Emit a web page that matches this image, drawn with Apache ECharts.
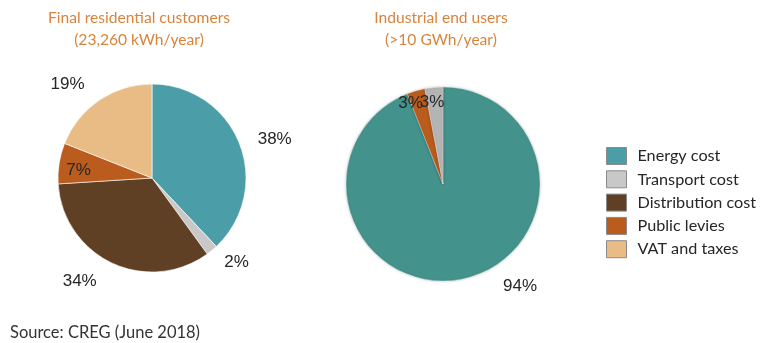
<!DOCTYPE html>
<html>
<head>
<meta charset="utf-8">
<script src="https://cdn.jsdelivr.net/npm/echarts@6/dist/echarts.min.js"></script>
<style>
  html, body { margin: 0; padding: 0; background: #fff; }
  #chart { width: 763px; height: 343px; }
</style>
</head>
<body>
<div id="chart"></div>
<script>
const categories = ['Energy cost', 'Transport cost', 'Distribution cost', 'Public levies', 'VAT and taxes']
const colors = ['#4B9EA7', '#C8C8C8', '#5F4024', '#BA5C1E', '#E8BC84']

// residential customers, clockwise from 12 o'clock
const residentialNames = ['Energy cost', 'Transport cost', 'Distribution cost', 'Public levies', 'VAT and taxes']
const residentialValues = [38, 2, 34, 7, 19]

// industrial end users, clockwise from 12 o'clock
const industrialNames = ['Energy cost', 'Public levies', 'Transport cost']
const industrialValues = [94, 3, 3]
const industrialColors = ['#43928B', '#BA5C1E', '#B4B4B4']

// small nudges so labels sit where the original puts them
const residentialNudge = [[0, 0], [-3, 4], [-2, 9], [-24, 0], [0, -8]]
const industrialNudge = [[31, -3], [-18, -31], [-6, -30]]

const FONT = 'Lato, "Open Sans", sans-serif'

const chart = echarts.init(document.getElementById('chart'), null, { renderer: 'canvas' })

const labelBase = {
  show: true,
  formatter: '{c}%',
  color: '#262626',
  fontSize: 17,
  fontFamily: '"Liberation Sans", Arial, sans-serif',
}

chart.setOption({
  animation: false,
  title: [
    {
      text: 'Final residential customers\n(23,260 kWh/year)',
      left: 139, top: 7, padding: 0, textAlign: 'center',
      textStyle: { color: '#D8843C', fontSize: 15.6, fontWeight: 'normal', fontFamily: FONT, lineHeight: 22 },
    },
    {
      text: 'Industrial end users\n(>10 GWh/year)',
      left: 441, top: 7, padding: 0, textAlign: 'center',
      textStyle: { color: '#D8843C', fontSize: 15.6, fontWeight: 'normal', fontFamily: FONT, lineHeight: 22 },
    },
    {
      text: 'Source: CREG (June 2018)',
      left: 10, top: 324, padding: 0,
      textStyle: { color: '#333', fontSize: 16.5, fontWeight: 'normal', fontFamily: FONT },
    },
  ],
  legend: {
    data: categories,
    orient: 'vertical',
    left: 606, top: 147,
    padding: 0,
    itemWidth: 20, itemHeight: 17, itemGap: 5.3,
    icon: 'rect',
    itemStyle: { borderColor: '#8a8a8a', borderWidth: 1 },
    textStyle: { color: '#262626', fontSize: 16.2, lineHeight: 17, fontFamily: FONT, padding: [0, 0, 0, 6] },
    selectedMode: false,
  },
  series: [
    {
      type: 'pie',
      center: [152, 178],
      radius: 94,
      startAngle: 90,
      clockwise: true,
      avoidLabelOverlap: false,
      itemStyle: { borderColor: '#fff', borderWidth: 0.6 },
      label: { ...labelBase, position: 'outside' },
      labelLine: { show: false, length: 10, length2: 4 },
      labelLayout: (p) => ({ dx: residentialNudge[p.dataIndex][0], dy: residentialNudge[p.dataIndex][1] }),
      data: residentialNames.map((n, i) => ({
        name: n,
        value: residentialValues[i],
        itemStyle: { color: colors[categories.indexOf(n)] },
        label: n === 'Public levies' ? { position: 'inside' } : undefined,
      })),
    },
    {
      type: 'pie',
      center: [443, 184],
      radius: 97,
      startAngle: 90,
      clockwise: true,
      avoidLabelOverlap: false,
      itemStyle: { borderColor: '#fff', borderWidth: 0.3, shadowBlur: 3, shadowColor: 'rgba(0,0,0,0.25)' },
      label: { ...labelBase, position: 'outside' },
      labelLine: { show: false, length: 10, length2: 4 },
      labelLayout: (p) => ({ dx: industrialNudge[p.dataIndex][0], dy: industrialNudge[p.dataIndex][1] }),
      data: industrialNames.map((n, i) => ({
        name: n,
        value: industrialValues[i],
        itemStyle: { color: industrialColors[i] },
        label: i > 0 ? { position: 'inside' } : undefined,
      })),
    },
  ],
})
</script>
</body>
</html>
